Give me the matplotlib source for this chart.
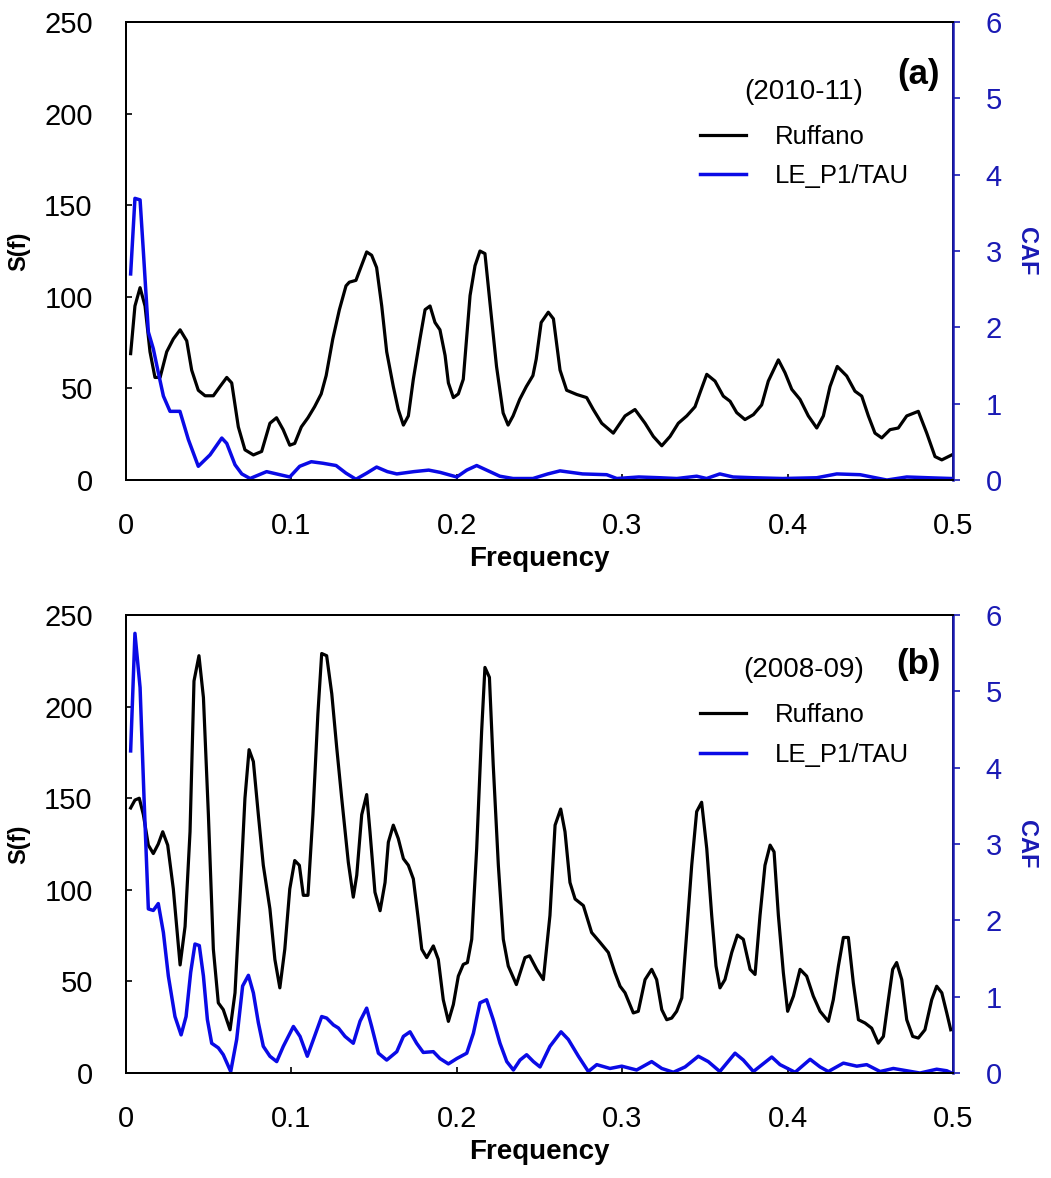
import matplotlib
matplotlib.use("Agg")
import matplotlib.pyplot as plt

# ---- data ----
# panel (a) 2010-11
freq_a_ruf = [0.0028, 0.0054, 0.0085, 0.0115, 0.0145, 0.0175, 0.0206, 0.0246, 0.0286, 0.0327,
              0.0367, 0.0397, 0.0437, 0.0478, 0.0528, 0.0568, 0.0609, 0.0639, 0.0679, 0.0719,
              0.077, 0.082, 0.087, 0.091, 0.095, 0.099, 0.102, 0.106, 0.110, 0.114,
              0.118, 0.121, 0.125, 0.129, 0.133, 0.135, 0.139, 0.1415, 0.1455, 0.1485,
              0.1515, 0.1546, 0.1576, 0.1616, 0.1646, 0.1677, 0.1707, 0.1737, 0.1777, 0.1808,
              0.1838, 0.1868, 0.1898, 0.1929, 0.1949, 0.1979, 0.2009, 0.2039, 0.208, 0.211,
              0.214, 0.217, 0.220, 0.224, 0.228, 0.231, 0.234, 0.238, 0.242, 0.246,
              0.248, 0.251, 0.2553, 0.2584, 0.2624, 0.2664, 0.2725, 0.2785, 0.2825, 0.2876,
              0.2946, 0.3017, 0.3077, 0.3138, 0.3188, 0.3239, 0.3289, 0.3339, 0.339, 0.344,
              0.347, 0.3511, 0.3561, 0.3611, 0.3652, 0.3692, 0.3742, 0.3793, 0.3843, 0.3883,
              0.3944, 0.3984, 0.4025, 0.4075, 0.4125, 0.4176, 0.4216, 0.4256, 0.430, 0.4357,
              0.4407, 0.4448, 0.4488, 0.4528, 0.4569, 0.4619, 0.4669, 0.472, 0.479, 0.4841,
              0.4891, 0.4932, 0.4992]
sf_a_ruf = [69, 95, 105, 95, 70, 56, 56, 70, 77, 82,
            76, 60, 49, 46, 46, 51, 56, 53, 29, 16.5,
            13.7, 15.6, 31, 34, 27.5, 19, 20, 29, 34, 40,
            47, 57, 77, 93, 106, 108, 109, 115, 124.5, 122.7,
            116, 95, 70, 51, 38.5, 30, 35, 55, 77, 93,
            95, 86, 82, 68, 53, 45, 47, 55, 100.7, 117,
            125, 123.6, 97, 62, 36.6, 30, 35, 44, 51, 57,
            66, 86, 91.6, 88, 60, 49, 46.7, 45, 38.5, 31,
            25.6, 35, 38.5, 31, 23.8, 18.7, 23.8, 31, 35, 40,
            47.6, 57.7, 54, 45.8, 43, 36.8, 33, 35.7, 41, 54,
            65.6, 58.6, 49.5, 44, 35, 28.4, 35, 51, 62, 56.8,
            48.5, 45.8, 35, 25.6, 23, 27.5, 28.4, 35, 37.5, 25.6,
            12.8, 11, 13.7]

freq_a_le = [0.0028, 0.0054, 0.0085, 0.0105, 0.0135, 0.0165, 0.0195, 0.0226, 0.0266, 0.0326,
             0.0377, 0.0437, 0.0508, 0.0579, 0.0609, 0.0659, 0.070, 0.075, 0.085, 0.093,
             0.099, 0.105, 0.112, 0.119, 0.127, 0.133, 0.139, 0.1455, 0.1515, 0.158,
             0.1637, 0.174, 0.183, 0.190, 0.200, 0.206, 0.212, 0.218, 0.226, 0.234,
             0.246, 0.255, 0.2624, 0.276, 0.2906, 0.2967, 0.310, 0.3228, 0.333, 0.345,
             0.351, 0.359, 0.367, 0.3793, 0.397, 0.4176, 0.4297, 0.4438, 0.460, 0.472,
             0.485, 0.499]
caf_a_le = [2.70, 3.69, 3.67, 2.99, 1.94, 1.72, 1.41, 1.10, 0.90, 0.90,
            0.53, 0.18, 0.33, 0.55, 0.48, 0.20, 0.08, 0.02, 0.11, 0.07,
            0.04, 0.18, 0.24, 0.22, 0.19, 0.09, 0.01, 0.09, 0.17, 0.11,
            0.08, 0.11, 0.13, 0.10, 0.04, 0.13, 0.19, 0.13, 0.05, 0.02,
            0.02, 0.08, 0.12, 0.08, 0.07, 0.02, 0.04, 0.03, 0.02, 0.05,
            0.02, 0.08, 0.04, 0.03, 0.02, 0.03, 0.08, 0.07, 0.0, 0.04,
            0.03, 0.02]

# panel (b) 2008-09
freq_b_ruf = [0.0028, 0.0054, 0.008, 0.0105, 0.0135, 0.0165, 0.0195, 0.0222, 0.0252, 0.0286,
              0.0327, 0.0357, 0.0387, 0.0411, 0.0441, 0.0468, 0.0498, 0.0528, 0.0558, 0.0588,
              0.0629, 0.0659, 0.0689, 0.0719, 0.0744, 0.077, 0.080, 0.083, 0.087, 0.090,
              0.093, 0.096, 0.099, 0.102, 0.1048, 0.1072, 0.110, 0.113, 0.116, 0.1183,
              0.1213, 0.1244, 0.1274, 0.1304, 0.1344, 0.1374, 0.1395, 0.1425, 0.1455, 0.1475,
              0.1505, 0.1536, 0.1566, 0.1586, 0.1616, 0.1646, 0.1677, 0.1707, 0.1737, 0.1767,
              0.1788, 0.1818, 0.1858, 0.1888, 0.1918, 0.1949, 0.1979, 0.2009, 0.2039, 0.2064,
              0.209, 0.212, 0.215, 0.217, 0.2197, 0.222, 0.2251, 0.2281, 0.2311, 0.236,
              0.2412, 0.244, 0.2483, 0.2523, 0.2563, 0.2594, 0.2628, 0.2654, 0.2684, 0.2715,
              0.2765, 0.2815, 0.2866, 0.2916, 0.2956, 0.2987, 0.3017, 0.3067, 0.3097, 0.3138,
              0.3178, 0.3208, 0.3239, 0.3269, 0.3299, 0.3329, 0.336, 0.339, 0.342, 0.345,
              0.348, 0.3511, 0.3541, 0.3567, 0.3591, 0.3621, 0.3662, 0.3696, 0.3732, 0.3773,
              0.3803, 0.3833, 0.3863, 0.3894, 0.3918, 0.3944, 0.3974, 0.400, 0.4035, 0.4075,
              0.4115, 0.4155, 0.4196, 0.4246, 0.4276, 0.4307, 0.4337, 0.4367, 0.4397, 0.4428,
              0.4468, 0.4508, 0.4548, 0.4579, 0.4609, 0.4635, 0.4659, 0.469, 0.472, 0.4756,
              0.479, 0.483, 0.4871, 0.4901, 0.4932, 0.4962, 0.4986]
sf_b_ruf = [144.7, 149, 150, 141, 124.4, 119.8, 125, 131.7, 124.4, 100.5,
            59, 80, 131.7, 214, 227.8, 205, 141, 67.6, 38.3, 34.6,
            23.6, 43.8, 95, 150, 176.5, 170, 141, 113.4, 89.6, 62,
            46.5, 67.6, 100.5, 116, 113.4, 97, 97, 141, 196, 229,
            227.8, 207, 177.5, 150, 115, 96, 108, 141, 152, 131.7,
            98.7, 88.6, 104, 126, 135.3, 128, 117, 113.4, 106, 84,
            67.6, 63, 69.4, 62, 40, 28.2, 37.4, 52.9, 59.3, 60.3,
            73, 122.5, 186.6, 221.4, 216, 168.3, 113.4, 73, 58.4, 48.3,
            63, 64, 56.6, 51, 86, 135.3, 144.1, 131.7, 104, 95,
            91.4, 76.7, 71.3, 65.8, 54.8, 47.4, 43.8, 32.8, 33.7, 51,
            56.6, 51, 34.6, 29.1, 30, 33.7, 41, 76.7, 113.4, 142.7,
            147.8, 122.5, 85.9, 58.4, 46.5, 51, 65.8, 75.3, 73, 56.6,
            53.8, 86, 113.4, 124.4, 120.7, 86, 54.8, 33.7, 42, 56.6,
            52.9, 42, 33.7, 28.2, 40, 58.4, 74, 74, 49.3, 29.1,
            27.3, 24.5, 16.3, 20, 40, 56.6, 60.3, 51, 29.1, 20,
            19.1, 23.6, 40, 47.4, 43.8, 32.8, 23.6]

freq_b_le = [0.0028, 0.0054, 0.0085, 0.0109, 0.0135, 0.0165, 0.0195, 0.0226, 0.0256, 0.0296,
             0.0333, 0.0363, 0.0391, 0.0417, 0.0443, 0.0468, 0.0492, 0.0518, 0.0558, 0.0588,
             0.0633, 0.0669, 0.0705, 0.074, 0.077, 0.080, 0.083, 0.087, 0.0911, 0.0951,
             0.1012, 0.1052, 0.1096, 0.1133, 0.1183, 0.1213, 0.1254, 0.1284, 0.1324, 0.1374,
             0.1415, 0.1455, 0.1485, 0.1526, 0.1576, 0.1637, 0.1677, 0.1717, 0.1757, 0.1797,
             0.1858, 0.1898, 0.1949, 0.200, 0.206, 0.210, 0.214, 0.218, 0.222, 0.2261,
             0.2302, 0.2342, 0.2382, 0.2422, 0.2463, 0.2503, 0.2563, 0.263, 0.2674, 0.2735,
             0.2795, 0.2846, 0.2926, 0.2997, 0.3087, 0.3178, 0.3239, 0.3309, 0.338, 0.346,
             0.352, 0.359, 0.3682, 0.3732, 0.3793, 0.3904, 0.3954, 0.4045, 0.4136, 0.4196,
             0.4246, 0.4337, 0.4418, 0.4478, 0.4559, 0.4639, 0.472, 0.480, 0.4901, 0.4962,
             0.4992]
caf_b_le = [4.22, 5.76, 5.05, 3.60, 2.15, 2.13, 2.22, 1.84, 1.27, 0.74,
            0.50, 0.74, 1.32, 1.69, 1.67, 1.27, 0.70, 0.39, 0.33, 0.24,
            0.02, 0.44, 1.14, 1.28, 1.05, 0.66, 0.35, 0.22, 0.15, 0.35,
            0.61, 0.48, 0.22, 0.44, 0.74, 0.72, 0.63, 0.59, 0.48, 0.39,
            0.68, 0.85, 0.61, 0.26, 0.17, 0.28, 0.48, 0.54, 0.39, 0.27,
            0.28, 0.19, 0.12, 0.19, 0.26, 0.52, 0.92, 0.96, 0.70, 0.39,
            0.15, 0.04, 0.17, 0.24, 0.15, 0.08, 0.35, 0.54, 0.44, 0.22,
            0.02, 0.11, 0.06, 0.09, 0.04, 0.15, 0.06, 0.01, 0.08, 0.22,
            0.15, 0.02, 0.26, 0.17, 0.02, 0.21, 0.11, 0.01, 0.18, 0.08,
            0.02, 0.13, 0.09, 0.11, 0.02, 0.06, 0.03, 0.0, 0.05, 0.03,
            0.0]

periods = ["(2010-11)", "(2008-09)"]
panel_tags = ["(a)", "(b)"]
series_names = ["Ruffano", "LE_P1/TAU"]
x_ticks = [0, 0.1, 0.2, 0.3, 0.4, 0.5]
x_ticklabels = ["0", "0.1", "0.2", "0.3", "0.4", "0.5"]
sf_ticks = [0, 50, 100, 150, 200, 250]
caf_ticks = [0, 1, 2, 3, 4, 5, 6]

# ---- style ----
plt.rcParams["font.family"] = ["Liberation Sans", "DejaVu Sans"]

BLUE_LINE = "#0a0ae6"
BLUE_AX = "#1a1ab4"

fig = plt.figure(figsize=(10.51, 11.78), dpi=100)
rects = [[0.1199, 0.5925, 0.7869, 0.3888], [0.1199, 0.0891, 0.7869, 0.3888]]
panels = [(freq_a_ruf, sf_a_ruf, freq_a_le, caf_a_le),
          (freq_b_ruf, sf_b_ruf, freq_b_le, caf_b_le)]
# vertical placement of legend / period / tag (axes fraction), per panel
legend_y = [0.707, 0.738]
period_y = [0.847, 0.880]
tag_y = [0.886, 0.891]

for i, (rect, (fr, sr, fl, cl)) in enumerate(zip(rects, panels)):
    ax = fig.add_axes(rect)
    ax2 = ax.twinx()

    l1, = ax.plot(fr, sr, color="black", lw=2.3, label=series_names[0])
    l2, = ax2.plot(fl, cl, color=BLUE_LINE, lw=2.5, label=series_names[1])

    ax.set_xlim(0, 0.5)
    ax.set_ylim(0, 250)
    ax2.set_ylim(0, 6)
    ax.set_xticks(x_ticks)
    ax.set_xticklabels(x_ticklabels)
    ax.set_yticks(sf_ticks)
    ax2.set_yticks(caf_ticks)

    ax.tick_params(axis="y", direction="in", length=4.5, width=1.2, labelsize=21, pad=24)
    ax.tick_params(axis="x", direction="in", length=4.5, width=1.2, labelsize=21, pad=23)
    ax2.tick_params(axis="y", direction="out", length=5, width=1.2, labelsize=21,
                    colors=BLUE_AX, pad=18.5)
    for s in ax.spines.values():
        s.set_linewidth(1.4)
    for s in ax2.spines.values():
        s.set_linewidth(1.4)
    ax2.spines["right"].set_color(BLUE_AX)
    ax2.spines["right"].set_linewidth(1.8)

    ax.set_xlabel("Frequency", fontsize=20, fontweight="bold", labelpad=4)
    ax.set_ylabel("S(f)", fontsize=17, fontweight="bold", labelpad=10)
    ax2.set_ylabel("CAF", fontsize=17, fontweight="bold", color=BLUE_AX,
                   rotation=270, labelpad=26)

    ax2.legend(handles=[l1, l2], loc="center left",
               bbox_to_anchor=(0.694, legend_y[i]), frameon=False,
               borderpad=0, borderaxespad=0,
               fontsize=18.5, handlelength=1.8,
               handletextpad=1.1, labelspacing=0.6)
    ax2.text(0.820, period_y[i], periods[i], transform=ax2.transAxes,
             ha="center", va="center", fontsize=20)
    ax2.text(0.9845, tag_y[i], panel_tags[i], transform=ax2.transAxes,
             ha="right", va="center", fontsize=25, fontweight="bold")

fig.savefig("out.png", dpi=100)
